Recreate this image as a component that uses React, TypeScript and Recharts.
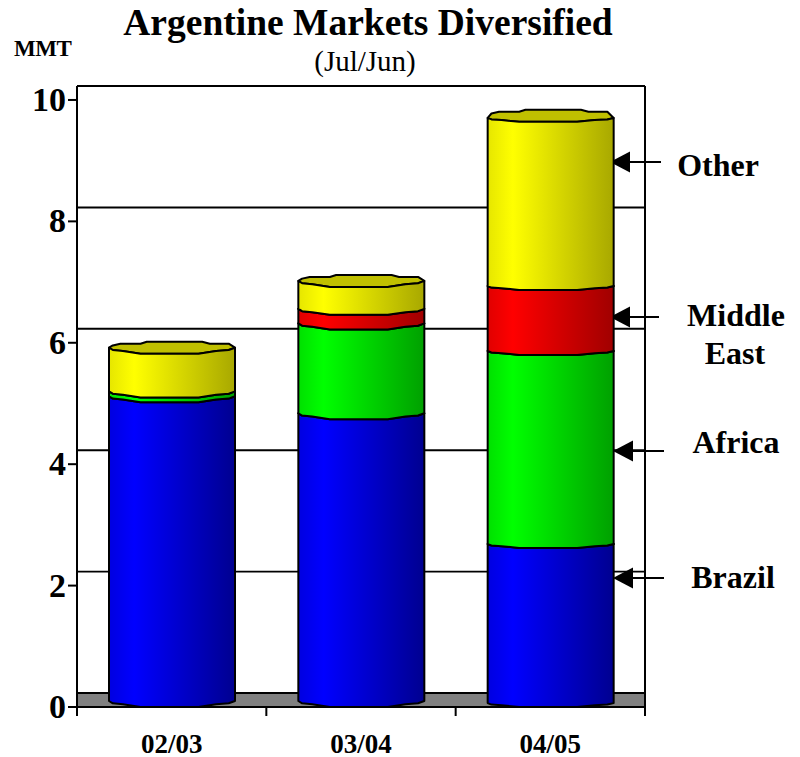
import React from 'react';
import { BarChart, Bar, XAxis, YAxis, ReferenceArea } from 'recharts';

const categories = ['02/03', '03/04', '04/05'];
const brazil = [5.02, 4.74, 2.62];
const africa = [0.08, 1.48, 3.18];
const middleEast = [0, 0.24, 1.07];
const other = [0.72, 0.46, 2.77];
const yTicks = [0, 2, 4, 6, 8, 10];

const data = categories.map((name, i) => ({
  name,
  brazil: brazil[i],
  africa: africa[i],
  middleEast: middleEast[i],
  other: other[i],
}));

const serif = '"Liberation Serif", "Times New Roman", serif';

// rim of the cylinder, as [fraction of width, px offset from the value's y]
const frontArc = [[0, -6], [0.03, -3.7], [0.11, -2.7], [0.25, 0], [0.71, 0], [0.85, -2.7], [0.95, -3.7], [1, -6]];
const backArc = [[0.95, -10], [0.8, -10], [0.74, -12], [0.3, -12], [0.25, -10], [0.09, -10], [0.03, -8.3]];
// the third column has a flatter front rim in the original
const rimDepth = [1, 1, 0.65];

const cylinder = (grad: string, cap: string) => (props: any) => {
  const { x, y, width, height, index } = props;
  if (!height || height <= 0) return null;
  const k = rimDepth[index] ?? 1;
  const front = (p: number[], base: number) => `${x + p[0] * width},${base + p[1] * k}`;
  const top = frontArc.map((p) => front(p, y)).join(' L');
  const bottom = [...frontArc].reverse().map((p) => front(p, y + height)).join(' L');
  const back = backArc.map((p) => `${x + p[0] * width},${y + p[1]}`).join(' L');
  return (
    <g>
      <path d={`M${top} L${back} Z`} fill={cap} stroke="#000" strokeWidth={2} strokeLinejoin="round" />
      <path d={`M${top} L${bottom} Z`} fill={`url(#${grad})`} stroke="#000" strokeWidth={2} strokeLinejoin="round" />
    </g>
  );
};

const gradient = (id: string, edge: string, full: string, dark: string) => (
  <linearGradient id={id} x1="0" y1="0" x2="1" y2="0">
    <stop offset="0%" stopColor={edge} />
    <stop offset="20%" stopColor={full} />
    <stop offset="100%" stopColor={dark} />
  </linearGradient>
);

const BAND = 568 / categories.length;

const XTick = (props: any) => {
  const { x, y, payload, index } = props;
  return (
    <g>
      {index === 0 && <line x1={x - BAND / 2} x2={x - BAND / 2} y1={y - 8} y2={y + 1} stroke="#000" strokeWidth={2} />}
      <line x1={x + BAND / 2} x2={x + BAND / 2} y1={y - 8} y2={y + 1} stroke="#000" strokeWidth={2} />
      <text x={x} y={y + 38} textAnchor="middle" fontFamily={serif} fontWeight="bold" fontSize={27} fill="#000">
        {payload.value}
      </text>
    </g>
  );
};

const Arrow = ({ tip, end, y }: { tip: number; end: number; y: number }) => (
  <g>
    <line x1={tip + 10} x2={end} y1={y} y2={y} stroke="#000" strokeWidth={2} />
    <polygon points={`${tip},${y} ${tip + 20},${y - 10.5} ${tip + 20},${y + 10.5}`} fill="#000" />
  </g>
);

const Note = ({ x, y, children }: { x: number; y: number; children: string }) => (
  <text x={x} y={y} textAnchor="middle" fontFamily={serif} fontWeight="bold" fontSize={32} fill="#000">
    {children}
  </text>
);

export default function App() {
  return (
    <div style={{ position: 'absolute', left: 0, top: 0, width: 800, height: 757, overflow: 'hidden' }}>
      <BarChart width={800} height={757} data={data} margin={{ top: 86, right: 0, bottom: 0, left: 0 }}>
        <defs>
          {gradient('gBlue', '#0000E0', '#0000FF', '#000090')}
          {gradient('gGreen', '#00E000', '#00FF00', '#00A000')}
          {gradient('gRed', '#E00000', '#FF0000', '#A00000')}
          {gradient('gYellow', '#E6E600', '#FFFF00', '#A8A800')}
        </defs>
        <ReferenceArea yAxisId="wall" y1={-0.23} y2={0} fill="#808080" fillOpacity={1} stroke="none" ifOverflow="visible" />
        {/* back wall grid, as thin areas so the lines stay behind the columns */}
        {yTicks.map((t) => (
          <ReferenceArea key={t} yAxisId="wall" y1={t - 0.016} y2={t + 0.016} fill="#000" fillOpacity={1} stroke="none" ifOverflow="visible" />
        ))}
        <XAxis dataKey="name" height={50} stroke="#000" strokeWidth={2} tickLine={false} tick={<XTick />} interval={0} />
        <YAxis
          yAxisId="front"
          width={77}
          domain={[0, 10.23]}
          ticks={yTicks}
          interval={0}
          stroke="#000"
          strokeWidth={2}
          tickSize={9}
          tick={{ fontFamily: serif, fontWeight: 'bold', fontSize: 34, fill: '#000', dy: -1 }}
        />
        <YAxis
          yAxisId="wall"
          orientation="right"
          width={155}
          domain={[-0.23, 10]}
          allowDataOverflow
          ticks={yTicks}
          interval={0}
          stroke="#000"
          strokeWidth={2}
          tick={false}
          tickLine={false}
        />
        <Bar yAxisId="front" dataKey="brazil" stackId="a" barSize={126} isAnimationActive={false} shape={cylinder('gBlue', '#0000C0')} />
        <Bar yAxisId="front" dataKey="africa" stackId="a" barSize={126} isAnimationActive={false} shape={cylinder('gGreen', '#00C000')} />
        <Bar yAxisId="front" dataKey="middleEast" stackId="a" barSize={126} isAnimationActive={false} shape={cylinder('gRed', '#C00000')} />
        <Bar yAxisId="front" dataKey="other" stackId="a" barSize={126} isAnimationActive={false} shape={cylinder('gYellow', '#C0C000')} />

        <text x={368} y={35} textAnchor="middle" fontFamily={serif} fontWeight="bold" fontSize={37.5} fill="#000">
          Argentine Markets Diversified
        </text>
        <text x={365} y={71} textAnchor="middle" fontFamily={serif} fontSize={29} fill="#000">
          (Jul/Jun)
        </text>
        <text x={14} y={56} fontFamily={serif} fontWeight="bold" fontSize={23} letterSpacing={-0.5} fill="#000">
          MMT
        </text>

        <Arrow tip={610} end={661} y={162} />
        <Arrow tip={610} end={659} y={317} />
        <Arrow tip={613} end={664} y={451} />
        <Arrow tip={613} end={664} y={578} />
        <Note x={718} y={176}>Other</Note>
        <Note x={736} y={326}>Middle</Note>
        <Note x={735} y={364}>East</Note>
        <Note x={736} y={453}>Africa</Note>
        <Note x={733} y={588}>Brazil</Note>
      </BarChart>
    </div>
  );
}
